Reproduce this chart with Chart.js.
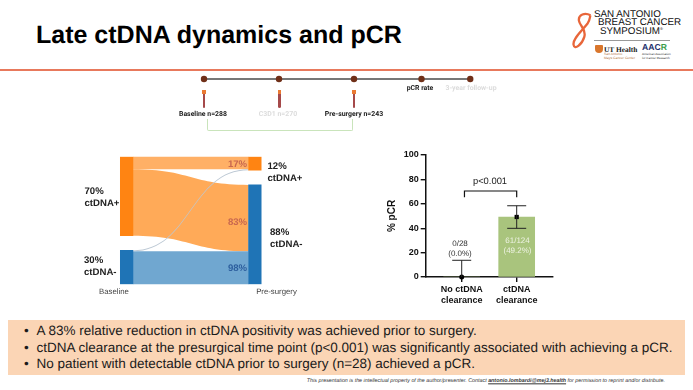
<!DOCTYPE html>
<html>
<head>
<meta charset="utf-8">
<title>Late ctDNA dynamics and pCR</title>
<script src="https://cdn.jsdelivr.net/npm/chart.js@4"></script>
<style>
  html, body { margin: 0; padding: 0; background: #fff; }
  body { position: relative; width: 693px; height: 390px; overflow: hidden; font-family: "Liberation Sans", Arial, sans-serif; color: #111; text-rendering: geometricPrecision; }
  canvas { display: block; }
  .box { position: absolute; }
  .t { position: absolute; white-space: nowrap; transform: translate(-50%, -50%); line-height: 1; }
  .l { position: absolute; white-space: nowrap; line-height: 11.6px; font-size: 9.6px; font-weight: bold; color: #222; }
  .tl { font-family: Roboto, sans-serif; font-weight: bold; font-size: 6.9px; color: #222; }
  .off { color: #dcdcdc; }
  .pct { font-size: 9.6px; font-weight: bold; }
  .tube { position: absolute; top: 89.5px; width: 3.4px; height: 4px; background: #ea7a33; }
  .tube i { position: absolute; left: .3px; top: 4.5px; width: 2.8px; height: 14px; background: #a5494a; border-radius: 0 0 1.5px 1.5px; }
  #bullets { position: absolute; left: 8px; top: 319.5px; width: 677px; height: 55.5px; background: #fbd5b5; }
  #bullets div { position: absolute; left: 28.5px; font-size: 13.5px; line-height: 16px; white-space: nowrap; color: #1a1a1a; }
  #bullets div::before { content: "\2022"; position: absolute; left: -12.5px; }
</style>
</head>
<body>
<div class="t" style="left:36px;top:34.5px;transform:translateY(-50%);font-size:25px;font-weight:bold;color:#000">Late ctDNA dynamics and pCR</div>
<div class="box" style="left:0;top:69px;width:693px;height:2px;background:#e8795c"></div>

<!-- logo -->
<svg class="box" style="left:572px;top:12px" width="20" height="42" viewBox="0 0 26 54">
  <path d="M24 4 C17 0 8 3 9 11 C10 18 19 22 16 32 C13 42 3 50 2 42 C1 34 13 24 20 15 C24 9 23 6 24 4" fill="none" stroke="#e8663a" stroke-width="3"/>
</svg>
<div class="l" style="left:594px;top:11px;font-size:9.8px;line-height:8.4px;font-weight:normal;color:#111">SAN ANTONIO<br><span style="margin-left:4px">BREAST CANCER</span><br><span style="margin-left:6px">SYMPOSIUM<sup style="font-size:4px;line-height:0">®</sup></span></div>
<div class="box" style="left:594px;top:40px;width:76px;height:1px;background:#999"></div>
<div class="box" style="left:595px;top:45px;width:8px;height:8px;background:#d9762c;border-radius:1px 1px 4px 4px"></div>
<div class="t" style="left:604px;top:48.5px;transform:translateY(-50%);font:bold 7.4px 'Liberation Serif',serif;color:#222">UT Health</div>
<div class="t" style="left:604px;top:55px;transform:translateY(-50%);font-size:3.4px;color:#b5763f">San Antonio</div>
<div class="t" style="left:604px;top:59px;transform:translateY(-50%);font-size:3.4px;color:#b5763f">Mays Cancer Center</div>
<div class="t" style="left:642px;top:47px;transform:translateY(-50%);font-size:8.6px;font-weight:bold;color:#1c2f6b">AAC<span style="color:#3c9d4a">R</span></div>
<div class="t" style="left:642px;top:54px;transform:translateY(-50%);font-size:3px;color:#333">American Association</div>
<div class="t" style="left:642px;top:57.5px;transform:translateY(-50%);font-size:3px;color:#333">for Cancer Research</div>

<!-- timeline -->
<div class="box" style="left:189px;top:70px;width:300px;height:18px"><canvas id="timeline"></canvas></div>
<div class="tube" style="left:202.3px"><i></i></div>
<div class="tube" style="left:277.8px"><i></i></div>
<div class="tube" style="left:352.3px"><i></i></div>
<div class="t tl" style="left:420px;top:88px">pCR rate</div>
<div class="t tl off" style="left:471px;top:88px">3-year follow-up</div>
<div class="t tl" style="left:203px;top:113.5px">Baseline n=288</div>
<div class="t tl off" style="left:278px;top:113.5px">C3D1 n=270</div>
<div class="t tl" style="left:354px;top:113.5px">Pre-surgery n=243</div>
<div class="box" style="left:206.5px;top:119px;width:144px;height:10.5px;border:solid #c9e4bb;border-width:0 1.6px 1.6px 1.6px;border-radius:0 0 2px 2px"></div>

<!-- sankey -->
<div class="box" style="left:60px;top:150px;width:270px;height:140px"><canvas id="sankey"></canvas></div>
<div class="l" style="left:84.5px;top:186px">70%<br>ctDNA+</div>
<div class="l" style="left:84px;top:255px">30%<br>ctDNA-</div>
<div class="l" style="left:267.5px;top:161px">12%<br>ctDNA+</div>
<div class="l" style="left:270px;top:227px">88%<br>ctDNA-</div>
<div class="t" style="left:114px;top:292px;font-size:7.8px;color:#444">Baseline</div>
<div class="t" style="left:276.5px;top:292px;font-size:7.8px;color:#444">Pre-surgery</div>
<div class="t pct" style="left:237.5px;top:164.5px;color:#c9684f">17%</div>
<div class="t pct" style="left:237.5px;top:222.5px;color:#c9684f">83%</div>
<div class="t pct" style="left:237.5px;top:269px;color:#2d5f9e">98%</div>

<!-- pCR bars -->
<div class="box" style="left:370px;top:140px;width:190px;height:170px"><canvas id="pcr"></canvas></div>
<div class="t" style="left:490px;top:181px;font-size:9.4px;color:#222">p&lt;0.001</div>
<div class="t" style="left:460px;top:244px;font-size:8px;color:#333">0/28</div>
<div class="t" style="left:460px;top:254px;font-size:8px;color:#333">(0.0%)</div>
<div class="t" style="left:517.5px;top:241px;font-size:8px;color:#eef3e3">61/124</div>
<div class="t" style="left:517.5px;top:251px;font-size:8px;color:#eef3e3">(49.2%)</div>

<!-- takeaways -->
<div id="bullets">
  <div style="top:3.5px">A 83% relative reduction in ctDNA positivity was achieved prior to surgery.</div>
  <div style="top:20.5px">ctDNA clearance at the presurgical time point (p&lt;0.001) was significantly associated with achieving a pCR.</div>
  <div style="top:36px">No patient with detectable ctDNA prior to surgery (n=28) achieved a pCR.</div>
</div>
<div class="t" style="left:665px;top:382px;transform:translate(-100%,-50%);font-size:5.35px;font-style:italic;color:#333">This presentation is the intellectual property of the author/presenter. Contact <b><u>antonio.lombardi@mej3.health</u></b> for permission to reprint and/or distribute.</div>

<script>
Chart.defaults.font.family = '"Liberation Sans", Arial, sans-serif';
Chart.defaults.animation = false;

// timeline, spacing between visits is only schematic
const visitPos = [0, 1, 2, 2.9, 3.55];
const visitRow = [0, 0, 0, 0, 0];

// sankey
const sankeyStages = ['Baseline', 'Pre-surgery'];
const ctdnaPos = [70, 12];
const ctdnaNeg = [30, 88];
const stageGap = 13;
const flowPosToPos = 11.2;
const flowPosToNeg = 58.8;
const flowNegToPos = 0.8;
const flowNegToNeg = 29.2;

// pCR bars
const pcrCategories = [['No ctDNA', 'clearance'], ['ctDNA', 'clearance']];
const pcrPos = [1, 2];
const pcrValues = [0, 49.2];
const pcrLow = [0, 39.9];
const pcrHigh = [13.7, 58.4];
const bracketX = [1.05, 2];
const bracketY = [65.3, 70.5];

new Chart(document.getElementById('timeline'), {
    type: 'scatter',
    data: {
        datasets: [{
            data: visitPos.map((x, i) => ({ x: x, y: visitRow[i] })),
            showLine: true,
            borderColor: '#4a4a4a',
            borderWidth: 1.4,
            pointRadius: 3.2,
            pointBackgroundColor: '#6f2f18',
            pointBorderWidth: 0,
            clip: false
        }]
    },
    options: {
        responsive: true,
        maintainAspectRatio: false,
        layout: { padding: 0, autoPadding: false },
        plugins: { legend: { display: false }, tooltip: { enabled: false } },
        scales: {
            x: { type: 'linear', display: false, min: -0.2, max: 3.8 },
            y: { display: false, min: -1, max: 1 }
        }
    }
});

const sankeyFlows = {
    id: 'sankeyFlows',
    beforeDatasetsDraw(chart) {
        const x = chart.scales.x, y = chart.scales.y;
        const half = chart.getDatasetMeta(0).data[0].width / 2;
        const x0 = x.getPixelForValue(0) + half;
        const x1 = x.getPixelForValue(1) - half;
        const mid = (x0 + x1) / 2;
        const posL = 0, negL = ctdnaPos[0] + stageGap;
        const posR = 0, negR = ctdnaPos[1] + stageGap;
        const flows = [
            [posL, posR, flowPosToPos, '#ffb066'],
            [posL + flowPosToPos, negR, flowPosToNeg, '#ffaa58'],
            [negL + flowNegToPos, negR + flowPosToNeg, flowNegToNeg, '#70a7d0'],
            [negL, posR + flowPosToPos, flowNegToPos, '#bcc8d4']
        ];
        const ctx = chart.ctx;
        ctx.save();
        flows.forEach(f => {
            const a = y.getPixelForValue(f[0]), b = y.getPixelForValue(f[1]);
            const c = y.getPixelForValue(f[0] + f[2]), d = y.getPixelForValue(f[1] + f[2]);
            ctx.beginPath();
            ctx.moveTo(x0, a);
            ctx.bezierCurveTo(mid, a, mid, b, x1, b);
            ctx.lineTo(x1, d);
            ctx.bezierCurveTo(mid, d, mid, c, x0, c);
            ctx.closePath();
            ctx.fillStyle = f[3];
            ctx.fill();
        });
        ctx.restore();
    }
};

new Chart(document.getElementById('sankey'), {
    type: 'bar',
    data: {
        labels: sankeyStages,
        datasets: [{
            label: 'ctDNA+',
            data: ctdnaPos.map(v => [0, v]),
            backgroundColor: '#ff8412',
            barThickness: 12.6,
            grouped: false
        }, {
            label: 'ctDNA-',
            data: ctdnaNeg.map((v, i) => [ctdnaPos[i] + stageGap, ctdnaPos[i] + stageGap + v]),
            backgroundColor: '#1f74b6',
            barThickness: 12.6,
            grouped: false
        }]
    },
    options: {
        responsive: true,
        maintainAspectRatio: false,
        layout: { padding: { left: 2.5, right: 11, top: 6.7, bottom: 5.7 } },
        plugins: { legend: { display: false }, tooltip: { enabled: false } },
        scales: {
            x: { display: false },
            y: { display: false, reverse: true, min: 0, max: 100 + stageGap }
        }
    },
    plugins: [sankeyFlows]
});

const pcrAnnotations = {
    id: 'pcrAnnotations',
    afterDatasetsDraw(chart) {
        const x = chart.scales.x, y = chart.scales.y, ctx = chart.ctx;
        ctx.save();
        ctx.strokeStyle = '#222';
        ctx.lineWidth = 1;
        pcrPos.forEach((p, i) => {
            const px = x.getPixelForValue(p);
            const lo = y.getPixelForValue(pcrLow[i]), hi = y.getPixelForValue(pcrHigh[i]);
            ctx.beginPath();
            ctx.moveTo(px, lo);
            ctx.lineTo(px, hi);
            ctx.moveTo(px - 9.5, hi);
            ctx.lineTo(px + 9.5, hi);
            if (pcrLow[i] > 0) {
                ctx.moveTo(px - 9.5, lo);
                ctx.lineTo(px + 9.5, lo);
            }
            ctx.stroke();
        });
        ctx.strokeStyle = '#111';
        ctx.lineWidth = 1.2;
        ctx.beginPath();
        ctx.moveTo(x.getPixelForValue(bracketX[0]), y.getPixelForValue(bracketY[0]));
        ctx.lineTo(x.getPixelForValue(bracketX[0]), y.getPixelForValue(bracketY[1]));
        ctx.lineTo(x.getPixelForValue(bracketX[1]), y.getPixelForValue(bracketY[1]));
        ctx.lineTo(x.getPixelForValue(bracketX[1]), y.getPixelForValue(bracketY[0]));
        ctx.stroke();
        ctx.restore();
    }
};

new Chart(document.getElementById('pcr'), {
    data: {
        datasets: [{
            type: 'scatter',
            data: pcrPos.map((p, i) => ({ x: p, y: pcrValues[i] })),
            pointStyle: ['circle', 'rect'],
            pointRadius: [2.5, 3],
            pointBackgroundColor: '#000',
            pointBorderWidth: 0,
            clip: false,
            order: 0
        }, {
            type: 'bar',
            data: pcrPos.map((p, i) => ({ x: p, y: pcrValues[i] })),
            backgroundColor: '#a9c47d',
            barThickness: 36,
            order: 1
        }]
    },
    options: {
        responsive: true,
        maintainAspectRatio: false,
        layout: { padding: { left: 0, right: 7.3, top: 15, bottom: 0 }, autoPadding: false },
        plugins: { legend: { display: false }, tooltip: { enabled: false } },
        scales: {
            x: {
                type: 'linear',
                offset: false,
                min: 0.345,
                max: 2.655,
                afterBuildTicks: axis => { axis.ticks = pcrPos.map(p => ({ value: p })); },
                afterFit: axis => { axis.height = 33; },
                ticks: {
                    callback: (v, i) => pcrCategories[i],
                    autoSkip: false,
                    maxRotation: 0,
                    padding: 2,
                    color: '#111',
                    font: { size: 9, weight: 'bold', lineHeight: 1.25 }
                },
                grid: { offset: false, drawOnChartArea: false, color: '#111', lineWidth: 1.4, tickLength: 5 },
                border: { color: '#111', width: 1.5 }
            },
            y: {
                min: 0,
                max: 100,
                afterFit: axis => { axis.width = 55.7; },
                ticks: {
                    stepSize: 20,
                    padding: 2,
                    color: '#111',
                    font: { size: 9, weight: 'bold' }
                },
                grid: { drawOnChartArea: false, color: '#111', lineWidth: 1.4, tickLength: 5 },
                border: { color: '#111', width: 1.5 },
                title: {
                    display: true,
                    text: '% pCR',
                    color: '#111',
                    padding: { top: 16, bottom: 0 },
                    font: { size: 10, weight: 'bold' }
                }
            }
        }
    },
    plugins: [pcrAnnotations]
});
</script>
</body>
</html>
